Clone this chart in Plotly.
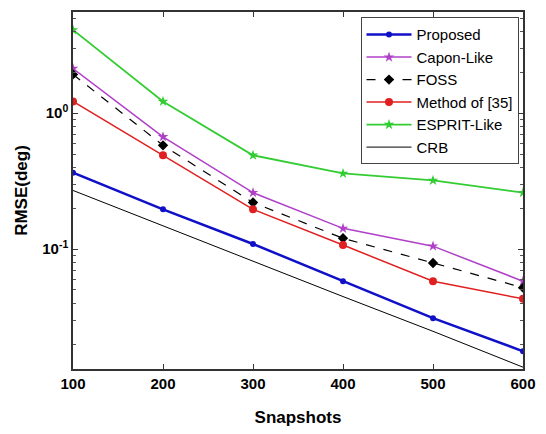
import plotly.graph_objects as go

snapshots = [100, 200, 300, 400, 500, 600]
proposed = [0.365, 0.196, 0.109, 0.058, 0.031, 0.0177]
capon_like = [2.13, 0.67, 0.26, 0.142, 0.105, 0.058]
foss = [1.93, 0.58, 0.22, 0.12, 0.079, 0.052]
method35 = [1.22, 0.49, 0.196, 0.107, 0.058, 0.043]
esprit_like = [4.1, 1.22, 0.49, 0.36, 0.32, 0.26]
crb = [0.27, 0.148, 0.0817, 0.0447, 0.0248, 0.0135]

series = [
    ("Proposed", proposed, "#1010c8", "solid", "circle", 6, 2.5),
    ("Capon-Like", capon_like, "#b040c8", "solid", "star", 8, 1.5),
    ("FOSS", foss, "black", "dash", "diamond", 8, 1.2),
    ("Method of [35]", method35, "#e02020", "solid", "circle", 8, 1.5),
    ("ESPRIT-Like", esprit_like, "#33cc33", "solid", "star", 8, 1.8),
]

fig = go.Figure()
for name, vals, color, dash, sym, msize, lw in series:
    fig.add_trace(go.Scatter(
        x=snapshots, y=vals, name=name, mode="lines+markers",
        line=dict(color=color, width=lw, dash=dash),
        marker=dict(symbol=sym, size=msize, color=color if name != "FOSS" else "black"),
    ))
fig.add_trace(go.Scatter(
    x=snapshots, y=crb, name="CRB", mode="lines",
    line=dict(color="black", width=1),
))

minor_vals = [m * 10 ** e for e in (-2, -1, 0) for m in range(2, 10)]

fig.update_layout(
    width=546, height=434,
    margin=dict(l=73, r=21, t=10, b=64),
    paper_bgcolor="white", plot_bgcolor="white",
    font=dict(family="Liberation Sans, Arial, sans-serif", color="black"),
    showlegend=True,
    legend=dict(
        x=0.99, y=0.985, xanchor="right", yanchor="top",
        bgcolor="white", bordercolor="#444", borderwidth=1,
        font=dict(size=15, color="black"),
        tracegroupgap=0, itemwidth=45,
    ),
    xaxis=dict(
        range=[100, 600], tickvals=[100, 200, 300, 400, 500, 600],
        ticks="inside", ticklen=5, tickcolor="#333",
        showline=True, linecolor="#333", linewidth=1.5, mirror="ticks",
        showgrid=False, zeroline=False,
        tickfont=dict(size=15, family="Liberation Sans, Arial", weight="bold"),
        title=dict(text="Snapshots", font=dict(size=17, weight="bold"), standoff=20),
    ),
    yaxis=dict(
        type="log", range=[-1.883, 0.745],
        tickvals=[0.1, 1], ticktext=["10<sup>-1</sup>", "10<sup>0</sup>"],
        ticks="inside", ticklen=5, tickcolor="#333",
        minor=dict(tickvals=minor_vals, ticks="inside", ticklen=3, tickcolor="#555"),
        showline=True, linecolor="#333", linewidth=1.5, mirror="ticks",
        showgrid=False, zeroline=False,
        tickfont=dict(size=15, family="Liberation Sans, Arial", weight="bold"),
        title=dict(text="RMSE(deg)", font=dict(size=17, weight="bold"), standoff=10),
    ),
)

fig.write_html("out.html")
